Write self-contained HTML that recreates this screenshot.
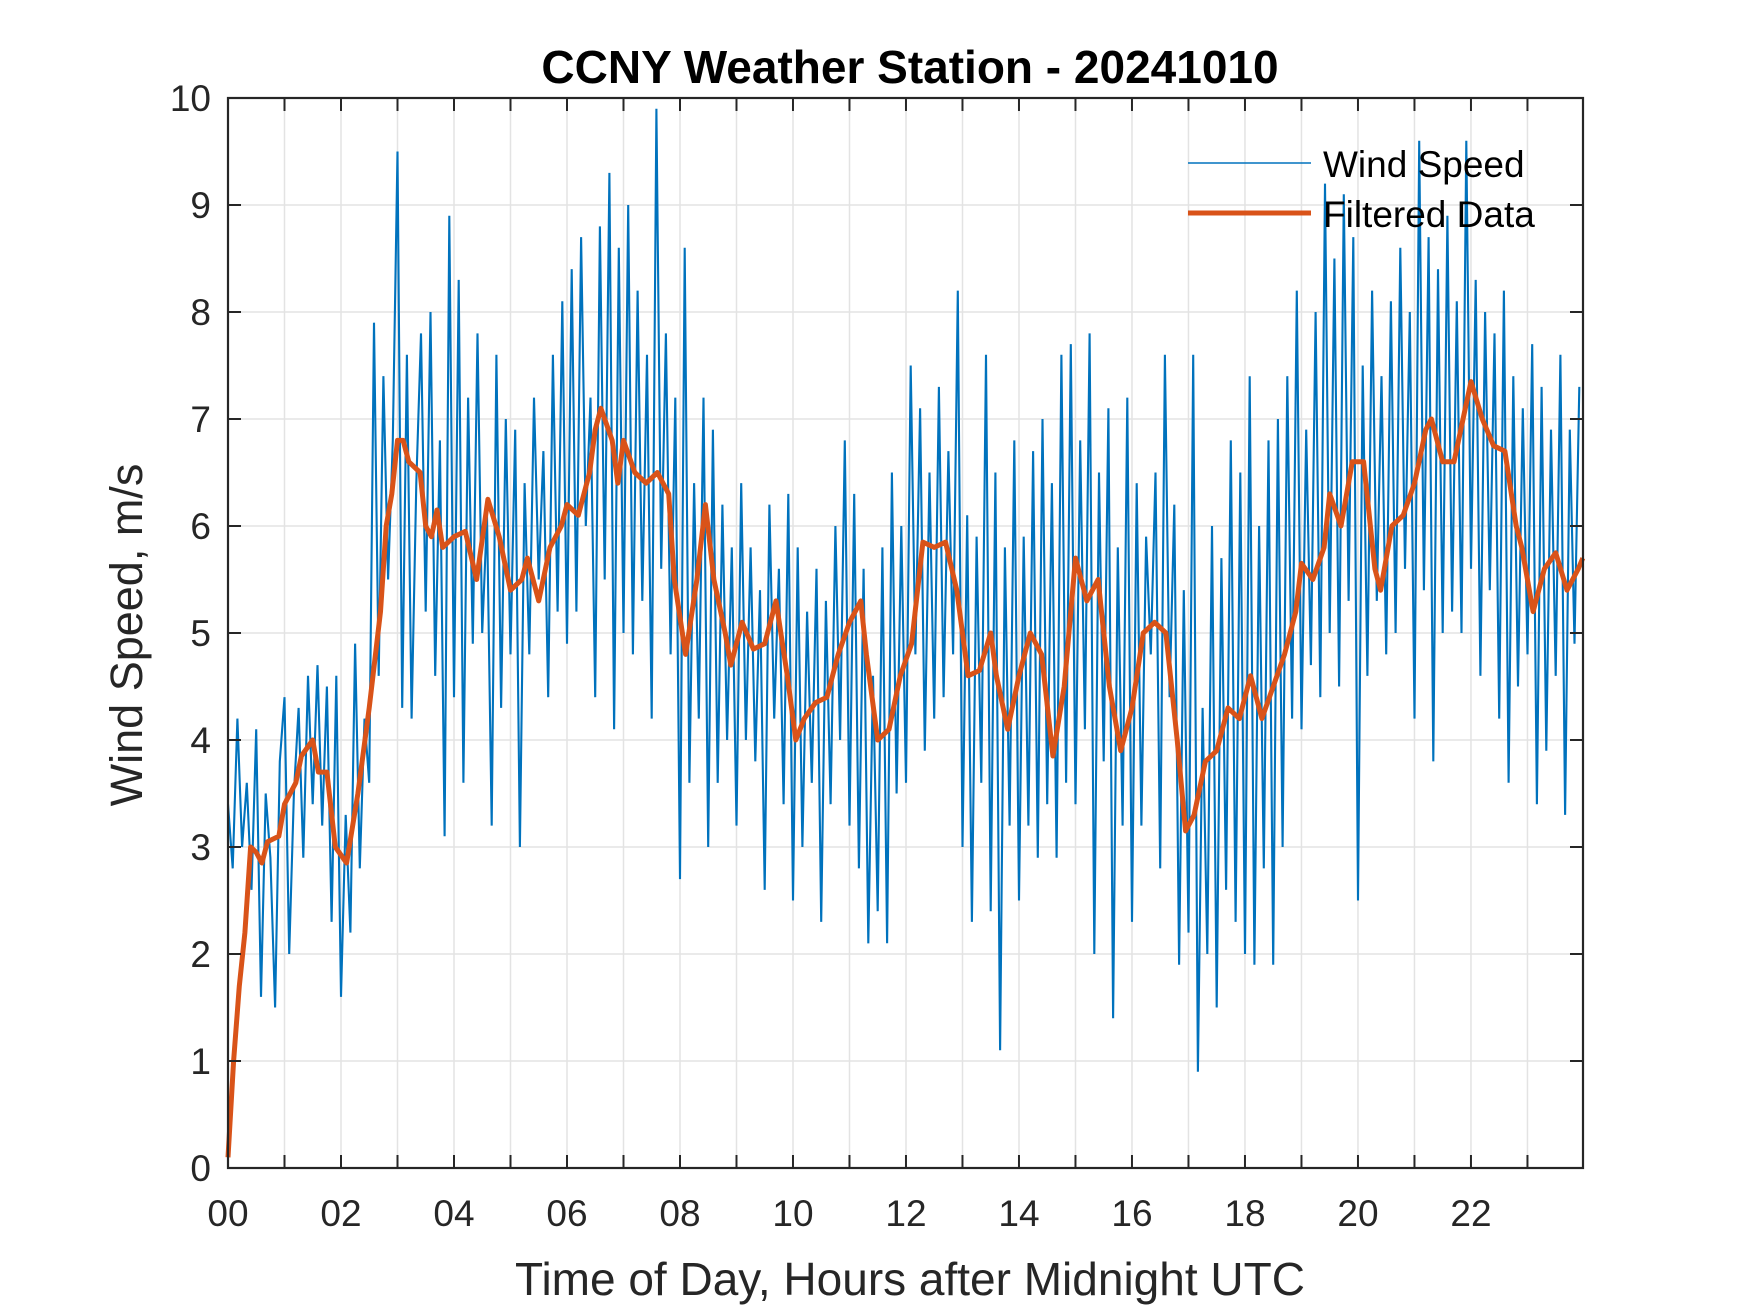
<!DOCTYPE html>
<html><head><meta charset="utf-8"><style>
html,body{margin:0;padding:0;background:#fff;}
svg{display:block;font-family:"Liberation Sans",sans-serif;}
</style></head><body>
<svg id="chart" width="1750" height="1313" viewBox="0 0 1750 1313" xmlns="http://www.w3.org/2000/svg">
<rect width="1750" height="1313" fill="#fff"/>
<g id="grid"></g>
<g id="series"></g>
<g id="axes"></g>
<text x="910" y="83" text-anchor="middle" font-size="46" font-weight="bold" fill="#000">CCNY Weather Station - 20241010</text>
<text x="910" y="1295" text-anchor="middle" font-size="46" fill="#262626">Time of Day, Hours after Midnight UTC</text>
<text transform="translate(142,635) rotate(-90)" text-anchor="middle" font-size="45" fill="#262626">Wind Speed, m/s</text>
<g>
<line x1="1188" y1="163" x2="1311" y2="163" stroke="#0072BD" stroke-width="1.5"/>
<text x="1323" y="177" font-size="37" fill="#000">Wind Speed</text>
<line x1="1188" y1="213" x2="1311" y2="213" stroke="#D95319" stroke-width="5"/>
<text x="1323" y="227" font-size="37" fill="#000">Filtered Data</text>
</g>
</svg>
<script>
const rawValues = [
3.4,2.8,4.2,3.0,3.6,2.6,4.1,1.6,3.5,2.9,1.5,3.8,
4.4,2.0,3.5,4.3,2.9,4.6,3.4,4.7,3.2,4.5,2.3,4.6,
1.6,3.3,2.2,4.9,2.8,4.2,3.6,7.9,4.6,7.4,5.5,6.8,
9.5,4.3,7.6,4.2,6.4,7.8,5.2,8.0,4.6,6.8,3.1,8.9,
4.4,8.3,3.6,7.2,4.9,7.8,5.0,6.1,3.2,7.6,4.3,7.0,
4.8,6.9,3.0,6.4,4.8,7.2,5.5,6.7,4.4,7.6,5.2,8.1,
4.9,8.4,5.2,8.7,6.0,7.2,4.4,8.8,5.5,9.3,4.1,8.6,
5.0,9.0,4.8,8.2,5.3,7.6,4.2,9.9,5.6,7.8,4.8,7.2,
2.7,8.6,3.6,6.4,4.2,7.2,3.0,6.9,3.6,6.2,4.0,5.8,
3.2,6.4,4.0,5.8,3.8,5.4,2.6,6.2,4.2,5.6,3.4,6.3,
2.5,5.8,3.0,5.2,3.6,5.6,2.3,5.3,3.4,6.0,4.0,6.8,
3.2,6.3,2.8,5.6,2.1,4.6,2.4,5.8,2.1,6.5,3.5,6.0,
3.6,7.5,4.8,7.1,3.9,6.5,4.2,7.3,4.4,6.7,4.8,8.2,
3.0,6.1,2.3,5.9,3.6,7.6,2.4,6.5,1.1,5.8,3.2,6.8,
2.5,5.9,3.2,6.7,2.9,7.0,3.4,6.4,2.9,7.6,3.6,7.7,
3.4,6.8,4.1,7.8,2.0,6.5,3.8,7.1,1.4,5.8,3.2,7.2,
2.3,6.4,3.2,5.9,4.8,6.5,2.8,7.6,4.4,6.2,1.9,5.4,
2.2,7.6,0.9,4.3,2.0,6.0,1.5,5.7,2.6,6.8,2.3,6.5,
2.0,7.4,1.9,6.0,2.8,6.8,1.9,7.0,3.0,7.4,4.2,8.2,
4.1,6.9,4.7,8.0,4.4,9.2,5.0,8.5,4.5,9.1,5.3,8.7,
2.5,7.5,4.6,8.2,5.3,7.4,4.8,8.1,5.0,8.6,5.6,8.0,
4.2,9.6,5.4,8.7,3.8,8.4,5.0,8.9,5.2,8.1,5.0,9.6,
5.6,8.3,4.6,8.0,5.4,7.8,4.2,8.2,3.6,7.4,4.5,7.1,
4.8,7.7,3.4,7.3,3.9,6.9,4.6,7.6,3.3,6.9,4.9,7.3
];
const rawStepMinutes = 5;
const filtHours = [0,0.1,0.2,0.3,0.4,0.5,0.6,0.7,0.9,1.0,1.2,1.3,1.5,1.6,1.75,1.9,2.1,2.3,2.5,2.7,2.8,2.9,3.0,3.1,3.2,3.4,3.5,3.6,3.7,3.8,4.0,4.2,4.4,4.6,4.8,5.0,5.2,5.3,5.5,5.7,5.9,6.0,6.2,6.4,6.5,6.6,6.8,6.9,7.0,7.2,7.4,7.6,7.8,7.9,8.1,8.3,8.45,8.6,8.8,8.9,9.1,9.3,9.5,9.7,9.9,10.05,10.2,10.4,10.6,10.8,11.0,11.2,11.3,11.5,11.7,11.9,12.1,12.3,12.5,12.7,12.9,13.1,13.3,13.5,13.6,13.8,14.0,14.2,14.4,14.6,14.8,15.0,15.2,15.4,15.6,15.8,16.0,16.2,16.4,16.6,16.8,16.95,17.1,17.3,17.5,17.7,17.9,18.1,18.3,18.5,18.7,18.9,19.0,19.2,19.4,19.5,19.7,19.9,20.1,20.3,20.4,20.6,20.8,21.0,21.2,21.3,21.5,21.7,21.9,22.0,22.2,22.4,22.6,22.8,22.9,23.1,23.3,23.5,23.7,23.9,23.98];
const filtValues = [0.1,1.0,1.7,2.2,3.0,2.95,2.85,3.05,3.1,3.4,3.6,3.85,4.0,3.7,3.7,3.0,2.85,3.5,4.3,5.2,6.0,6.3,6.8,6.8,6.6,6.5,6.0,5.9,6.15,5.8,5.9,5.95,5.5,6.25,5.9,5.4,5.5,5.7,5.3,5.8,6.0,6.2,6.1,6.5,6.9,7.1,6.8,6.4,6.8,6.5,6.4,6.5,6.3,5.5,4.8,5.5,6.2,5.5,5.0,4.7,5.1,4.85,4.9,5.3,4.6,4.0,4.2,4.35,4.4,4.8,5.1,5.3,4.8,4.0,4.1,4.6,4.9,5.85,5.8,5.85,5.4,4.6,4.65,5.0,4.6,4.1,4.6,5.0,4.8,3.85,4.5,5.7,5.3,5.5,4.5,3.9,4.3,5.0,5.1,5.0,4.0,3.15,3.3,3.8,3.9,4.3,4.2,4.6,4.2,4.5,4.8,5.2,5.65,5.5,5.8,6.3,6.0,6.6,6.6,5.6,5.4,6.0,6.1,6.4,6.9,7.0,6.6,6.6,7.1,7.35,7.0,6.75,6.7,6.0,5.8,5.2,5.6,5.75,5.4,5.6,5.7];
const xTickLabels = ["00","02","04","06","08","10","12","14","16","18","20","22"];
const yTickLabels = ["0","1","2","3","4","5","6","7","8","9","10"];

const L=228,R=1583,T=98,B=1168,XMAX=23.983,YMAX=10;
function xs(h){return L+(h/XMAX)*(R-L);}
function ys(v){return B-(v/YMAX)*(B-T);}
const NS="http://www.w3.org/2000/svg";
function mk(tag,attrs,parent){const e=document.createElementNS(NS,tag);for(const k in attrs)e.setAttribute(k,attrs[k]);parent.appendChild(e);return e;}
const grid=document.getElementById('grid'),axes=document.getElementById('axes'),series=document.getElementById('series');
for(let h=1;h<=23;h++){
  const g=mk('line',{x1:xs(h),x2:xs(h),y1:T,y2:B,stroke:'#e3e3e3','stroke-width':1.5},grid);
  
  
  const t1=mk('line',{x1:xs(h),x2:xs(h),y1:B,y2:B-13,stroke:'#262626','stroke-width':2},axes);
  
  
  const t2=mk('line',{x1:xs(h),x2:xs(h),y1:T,y2:T+13,stroke:'#262626','stroke-width':2},axes);
  
  
}
for(let v=1;v<=9;v++){
  const g=mk('line',{x1:L,x2:R,y1:ys(v),y2:ys(v),stroke:'#e3e3e3','stroke-width':1.5},grid);
  
  
  const t1=mk('line',{x1:L,x2:L+13,y1:ys(v),y2:ys(v),stroke:'#262626','stroke-width':2},axes);
  
  
  const t2=mk('line',{x1:R,x2:R-13,y1:ys(v),y2:ys(v),stroke:'#262626','stroke-width':2},axes);
  
  
}
xTickLabels.forEach((lab,i)=>{
  const t=mk('text',{x:xs(i*2),y:1226,'text-anchor':'middle','font-size':37,fill:'#262626'},axes);
  t.textContent=lab;
  
  
});
yTickLabels.forEach((lab,i)=>{
  const t=mk('text',{x:211,y:ys(i)+13,'text-anchor':'end','font-size':37,fill:'#262626'},axes);
  t.textContent=lab;
  
  
});
const frame=mk('rect',{x:L,y:T,width:R-L,height:B-T,fill:'none',stroke:'#262626','stroke-width':2.2},axes);


const rawPts=rawValues.map((v,i)=>xs(i*rawStepMinutes/60).toFixed(1)+','+ys(v).toFixed(1)).join(' ');
const raw=mk('polyline',{points:rawPts,fill:'none',stroke:'#0072BD','stroke-width':2.1,'stroke-linejoin':'miter'},series);


const fPts=filtHours.map((h,i)=>xs(h).toFixed(1)+','+ys(filtValues[i]).toFixed(1)).join(' ');
const filt=mk('polyline',{points:fPts,fill:'none',stroke:'#D95319','stroke-width':5,'stroke-linejoin':'round'},series);


</script>
</body></html>
